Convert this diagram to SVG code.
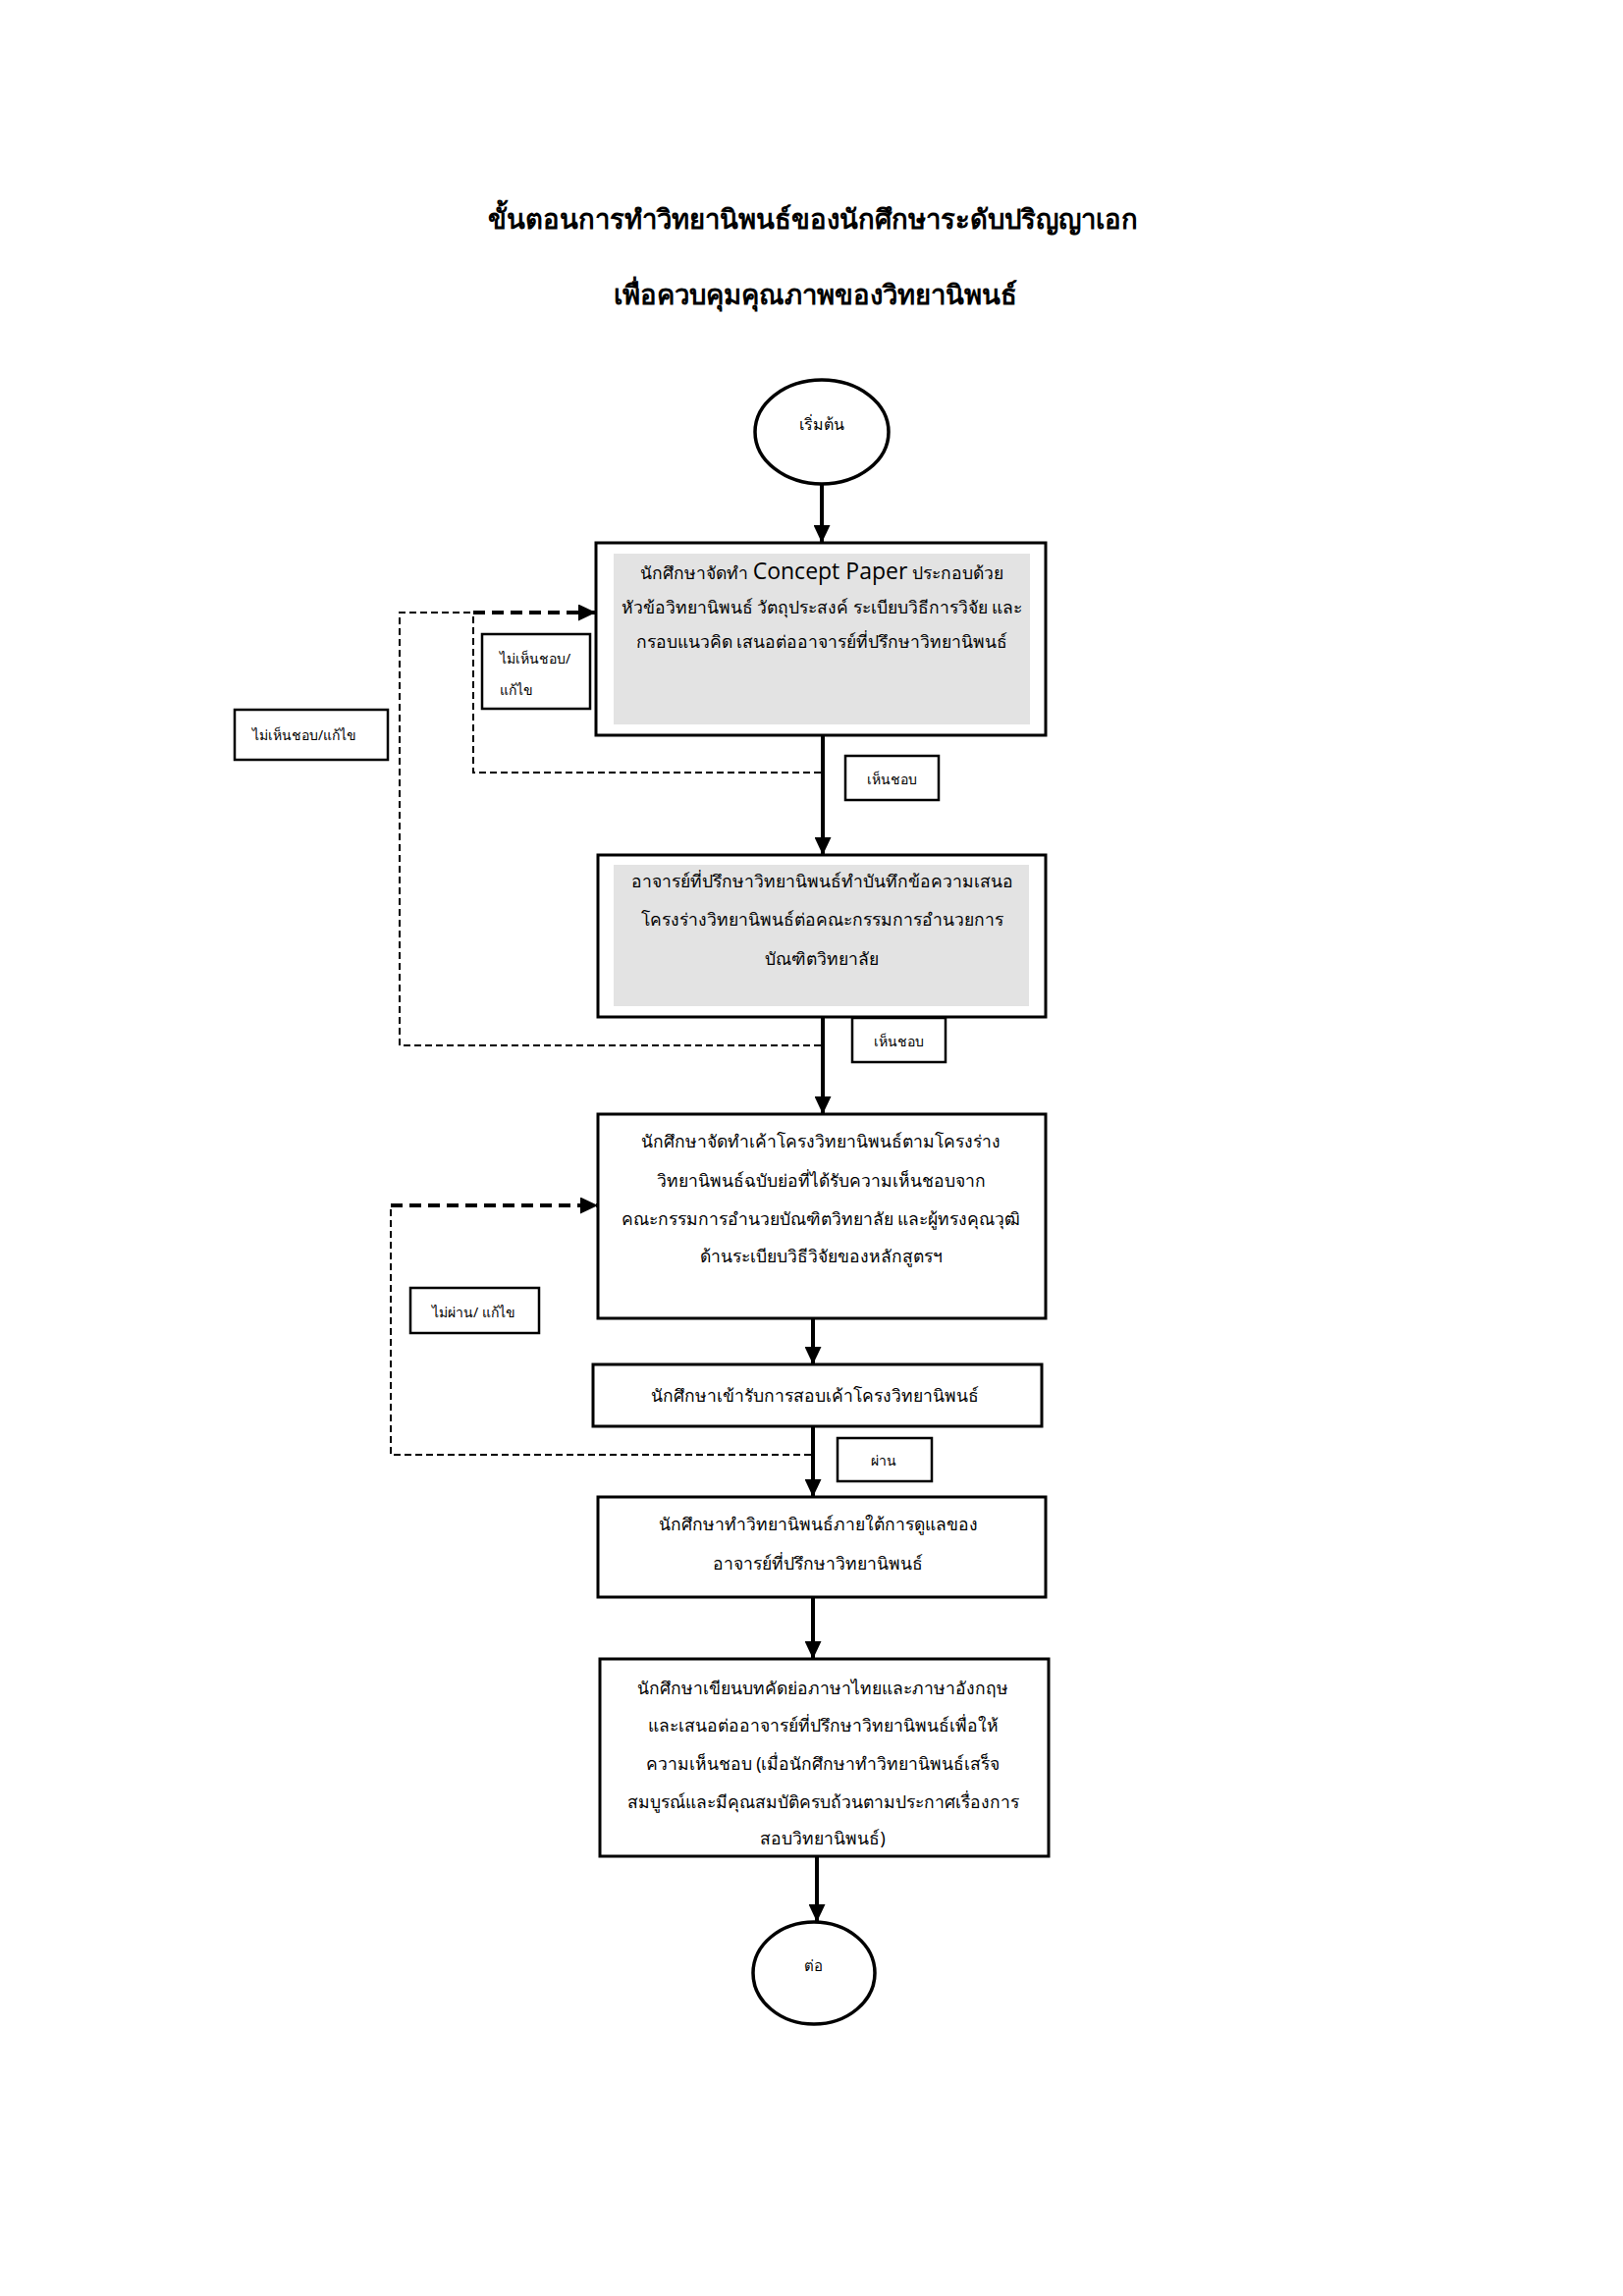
<svg xmlns="http://www.w3.org/2000/svg" width="1653" height="2339" viewBox="0 0 1653 2339">
<defs>
<style>
.bg{fill:#fff}
.box{fill:#fff;stroke:#000;stroke-width:3}
.lbl{fill:#fff;stroke:#000;stroke-width:2.5}
.shade{fill:#e3e3e3}
.t{font-family:"Noto Sans","DejaVu Sans",sans-serif;font-size:17.5px;fill:#000;text-anchor:middle}
.ts{font-family:"Noto Sans","DejaVu Sans",sans-serif;font-size:14px;fill:#000}
.title{font-family:"Noto Sans","DejaVu Sans",sans-serif;font-size:27.5px;font-weight:bold;fill:#000;text-anchor:middle}
.cp{font-family:"Open Sans","Liberation Sans",sans-serif;font-size:23px}
.conn{stroke:#000;stroke-width:4;fill:none}
.dash{stroke:#000;stroke-width:2;stroke-dasharray:7 4;fill:none}
.dashb{stroke:#000;stroke-width:4;stroke-dasharray:12 7;fill:none}
.oval{fill:#fff;stroke:#000;stroke-width:3.5}
</style>
<marker id="ah" viewBox="0 0 18 17" refX="18" refY="8.5" markerWidth="18" markerHeight="17" markerUnits="userSpaceOnUse" orient="auto">
<path d="M0,0 L18,8.5 L0,17 Z" fill="#000"/>
</marker>
</defs>
<rect class="bg" x="0" y="0" width="1653" height="2339"/>
<g id="title">
<text class="title" x="828" y="233">ขั้นตอนการทำวิทยานิพนธ์ของนักศึกษาระดับปริญญาเอก</text>
<text class="title" x="830" y="310">เพื่อควบคุมคุณภาพของวิทยานิพนธ์</text>
</g>
<g id="connectors">
<line class="conn" x1="837" y1="493" x2="837" y2="553" marker-end="url(#ah)"/>
<line class="conn" x1="838" y1="749" x2="838" y2="871" marker-end="url(#ah)"/>
<line class="conn" x1="838" y1="1036" x2="838" y2="1135" marker-end="url(#ah)"/>
<line class="conn" x1="828" y1="1343" x2="828" y2="1390" marker-end="url(#ah)"/>
<line class="conn" x1="828" y1="1453" x2="828" y2="1525" marker-end="url(#ah)"/>
<line class="conn" x1="828" y1="1627" x2="828" y2="1690" marker-end="url(#ah)"/>
<line class="conn" x1="832" y1="1891" x2="832" y2="1958" marker-end="url(#ah)"/>
<polyline class="dash" points="836,787 482,787 482,624"/>
<polyline class="dash" points="836,1065 407,1065 407,624 482,624"/>
<line class="dashb" x1="482" y1="624" x2="607" y2="624" marker-end="url(#ah)"/>
<polyline class="dash" points="826,1482 398,1482 398,1228"/>
<line class="dashb" x1="398" y1="1228" x2="609" y2="1228" marker-end="url(#ah)"/>
</g>
<g id="start">
<ellipse class="oval" cx="837" cy="440" rx="68" ry="53"/>
<text class="t" x="837" y="438" style="font-size:16px">เริ่มต้น</text>
</g>
<g id="box1">
<rect class="box" x="607" y="553" width="458" height="196"/>
<rect class="shade" x="625" y="564" width="424" height="174"/>
<text class="t" x="837" y="590">นักศึกษาจัดทำ <tspan class="cp">Concept Paper</tspan> ประกอบด้วย</text>
<text class="t" x="837" y="625">หัวข้อวิทยานิพนธ์ วัตถุประสงค์ ระเบียบวิธีการวิจัย และ</text>
<text class="t" x="837" y="660">กรอบแนวคิด เสนอต่ออาจารย์ที่ปรึกษาวิทยานิพนธ์</text>
</g>
<g id="box2">
<rect class="box" x="609" y="871" width="456" height="165"/>
<rect class="shade" x="625" y="881" width="423" height="144"/>
<text class="t" x="837" y="904">อาจารย์ที่ปรึกษาวิทยานิพนธ์ทำบันทึกข้อความเสนอ</text>
<text class="t" x="837" y="943">โครงร่างวิทยานิพนธ์ต่อคณะกรรมการอำนวยการ</text>
<text class="t" x="837" y="983">บัณฑิตวิทยาลัย</text>
</g>
<g id="box3">
<rect class="box" x="609" y="1135" width="456" height="208"/>
<text class="t" x="836" y="1169">นักศึกษาจัดทำเค้าโครงวิทยานิพนธ์ตามโครงร่าง</text>
<text class="t" x="836" y="1209">วิทยานิพนธ์ฉบับย่อที่ได้รับความเห็นชอบจาก</text>
<text class="t" x="836" y="1248">คณะกรรมการอำนวยบัณฑิตวิทยาลัย และผู้ทรงคุณวุฒิ</text>
<text class="t" x="836" y="1286">ด้านระเบียบวิธีวิจัยของหลักสูตรฯ</text>
</g>
<g id="box4">
<rect class="box" x="604" y="1390" width="457" height="63"/>
<text class="t" x="830" y="1428">นักศึกษาเข้ารับการสอบเค้าโครงวิทยานิพนธ์</text>
</g>
<g id="box5">
<rect class="box" x="609" y="1525" width="456" height="102"/>
<text class="t" x="833" y="1559">นักศึกษาทำวิทยานิพนธ์ภายใต้การดูแลของ</text>
<text class="t" x="833" y="1599">อาจารย์ที่ปรึกษาวิทยานิพนธ์</text>
</g>
<g id="box6">
<rect class="box" x="611" y="1690" width="457" height="201"/>
<text class="t" x="838" y="1726">นักศึกษาเขียนบทคัดย่อภาษาไทยและภาษาอังกฤษ</text>
<text class="t" x="838" y="1764">และเสนอต่ออาจารย์ที่ปรึกษาวิทยานิพนธ์เพื่อให้</text>
<text class="t" x="838" y="1803">ความเห็นชอบ (เมื่อนักศึกษาทำวิทยานิพนธ์เสร็จ</text>
<text class="t" x="838" y="1842">สมบูรณ์และมีคุณสมบัติครบถ้วนตามประกาศเรื่องการ</text>
<text class="t" x="838" y="1879">สอบวิทยานิพนธ์)</text>
</g>
<g id="end">
<ellipse class="oval" cx="829" cy="2010" rx="62" ry="52"/>
<text class="t" x="828" y="2008" style="font-size:15px">ต่อ</text>
</g>
<g id="lbl-reject1">
<rect class="lbl" x="491" y="646" width="110" height="76"/>
<text class="ts" x="509" y="676">ไม่เห็นชอบ/</text>
<text class="ts" x="509" y="708">แก้ไข</text>
</g>
<g id="lbl-reject2">
<rect class="lbl" x="239" y="723" width="156" height="51"/>
<text class="ts" x="257" y="754">ไม่เห็นชอบ/แก้ไข</text>
</g>
<g id="lbl-approve1">
<rect class="lbl" x="861" y="770" width="95" height="45"/>
<text class="ts" x="908" y="799" text-anchor="middle">เห็นชอบ</text>
</g>
<g id="lbl-approve2">
<rect class="lbl" x="868" y="1037" width="95" height="45"/>
<text class="ts" x="915" y="1066" text-anchor="middle">เห็นชอบ</text>
</g>
<g id="lbl-fail">
<rect class="lbl" x="418" y="1312" width="131" height="46"/>
<text class="ts" x="440" y="1342">ไม่ผ่าน/ แก้ไข</text>
</g>
<g id="lbl-pass">
<rect class="lbl" x="853" y="1465" width="96" height="44"/>
<text class="ts" x="900" y="1493" text-anchor="middle">ผ่าน</text>
</g>
</svg>
